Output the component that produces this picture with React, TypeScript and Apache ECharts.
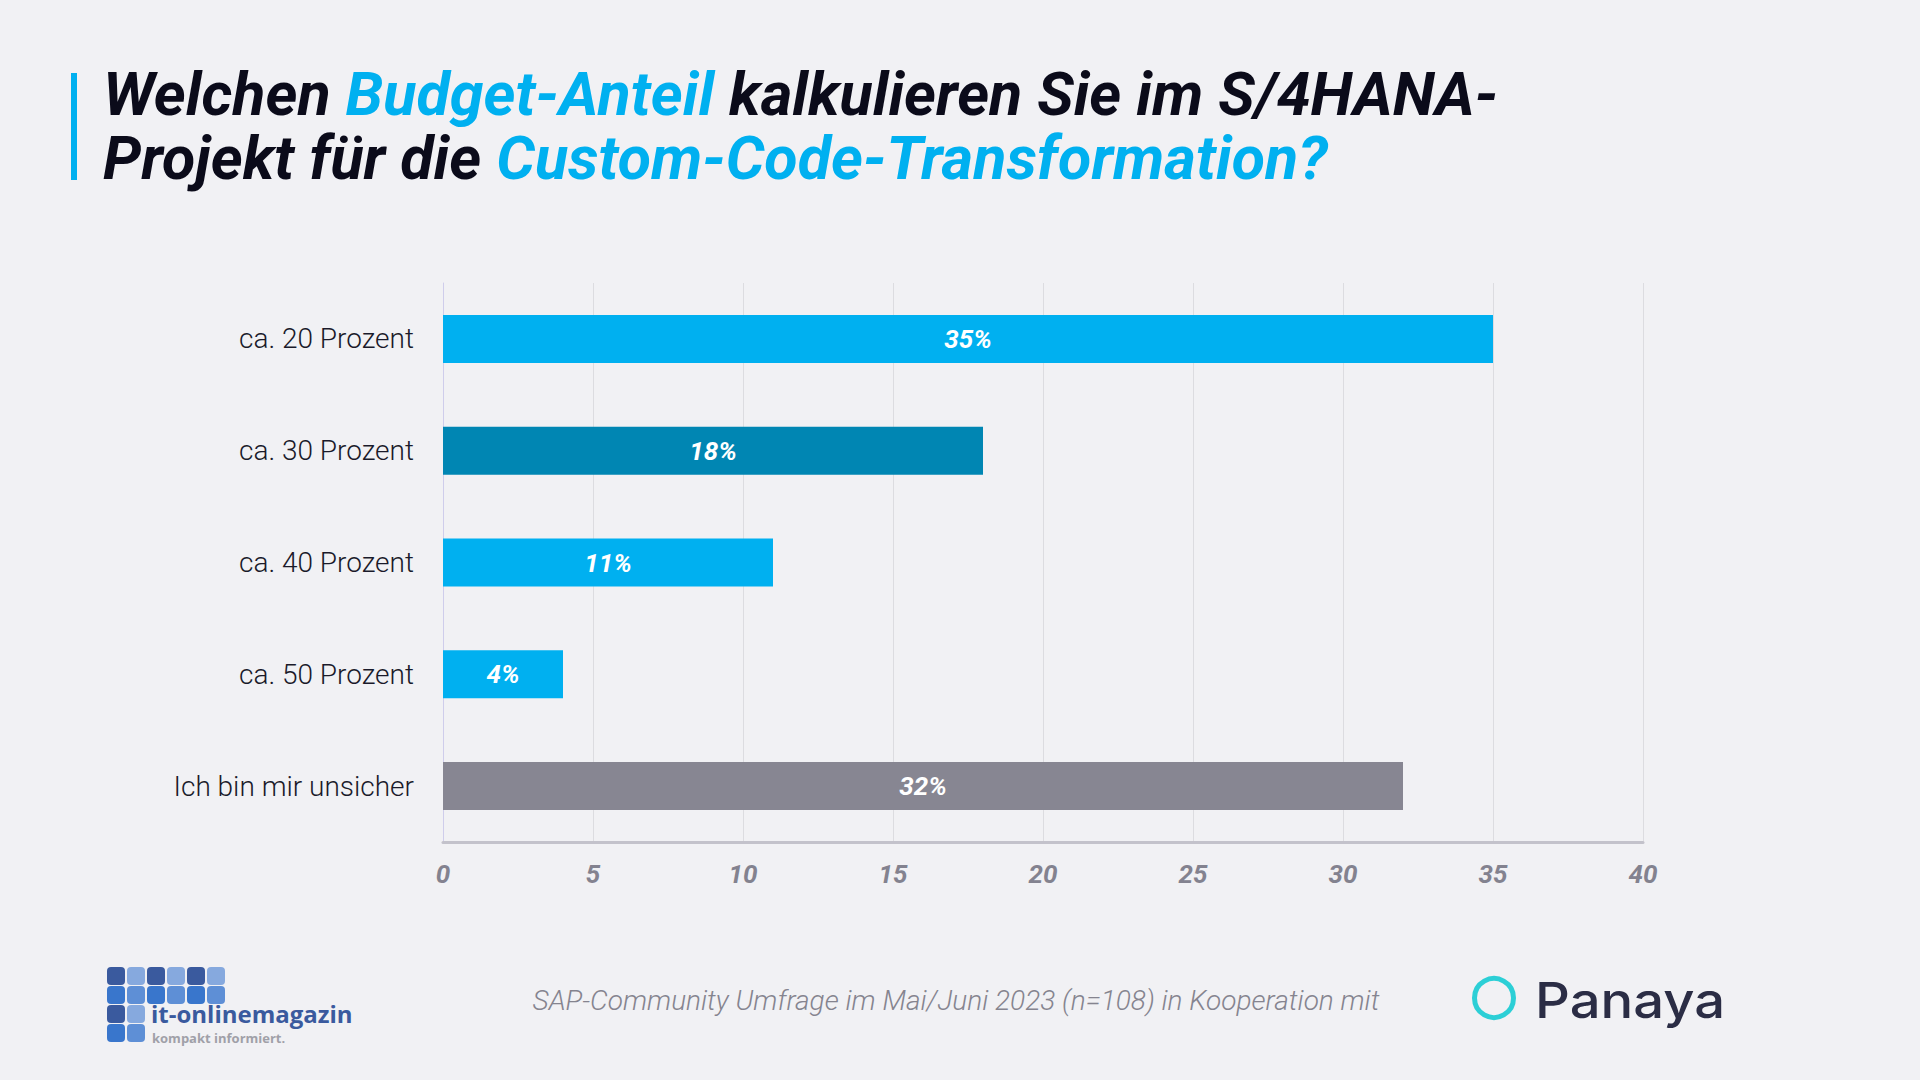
import React, { useEffect, useRef } from "react";
import * as echarts from "echarts";

const categories = ["ca. 20 Prozent", "ca. 30 Prozent", "ca. 40 Prozent", "ca. 50 Prozent", "Ich bin mir unsicher"];
const values = [35, 18, 11, 4, 32];
const barColors = ["#00b0f0", "#0086b3", "#00b0f0", "#00b0f0", "#878692"];
const xTicks = { min: 0, max: 40, interval: 5 };
const titleLine1 = ["Welchen ", "Budget-Anteil", " kalkulieren Sie im S/4HANA-"];
const titleLine2 = ["Projekt für die ", "Custom-Code-Transformation?"];
const footerText = "SAP-Community Umfrage im Mai/Juni 2023 (n=108) in Kooperation mit";

function logoSquares() {
  const dark = "#3a5a9e";
  const light = "#86a9de";
  const mid = "#3976cc";
  const midLight = "#5e8fd6";
  const els: any[] = [];
  const x0 = 107;
  const ys = [967, 986, 1005, 1024];
  const pitch = 20;
  const size = 18;
  for (let r = 0; r < 4; r++) {
    const cols = r < 2 ? 6 : 2;
    for (let c = 0; c < cols; c++) {
      const even = c % 2 === 0;
      const fill = r % 2 === 0 ? (even ? dark : light) : even ? mid : midLight;
      els.push({
        type: "rect",
        shape: { x: x0 + c * pitch, y: ys[r], width: size, height: size, r: 4 },
        style: { fill },
      });
    }
  }
  return els;
}

const titleRich = {
  a: { color: "#0b0b1a", fontFamily: "Roboto", fontStyle: "italic", fontWeight: 700, fontSize: 61, lineHeight: 64 },
  b: { color: "#00b0f0", fontFamily: "Roboto", fontStyle: "italic", fontWeight: 700, fontSize: 61, lineHeight: 64 },
};

export default function App() {
  const ref = useRef<HTMLDivElement>(null);
  useEffect(() => {
    if (!ref.current) return;
    const chart = echarts.init(ref.current, null, { renderer: "svg" });
    chart.setOption({
      animation: false,
      backgroundColor: "#f1f1f4",
      title: [
        {
          left: 103,
          top: 62,
          padding: 0,
          text: `{a|${titleLine1[0]}}{b|${titleLine1[1]}}{a|${titleLine1[2]}}`,
          textStyle: { rich: titleRich },
        },
        {
          left: 103,
          top: 126,
          padding: 0,
          text: `{a|${titleLine2[0]}}{b|${titleLine2[1]}}`,
          textStyle: { rich: titleRich },
        },
      ],
      grid: { left: 443, right: 277, top: 283, height: 559, containLabel: false },
      xAxis: {
        type: "value",
        min: xTicks.min,
        max: xTicks.max,
        interval: xTicks.interval,
        axisLine: { show: true, lineStyle: { color: "#c3c2cb", width: 3 } },
        axisTick: { show: false },
        splitLine: { show: true, lineStyle: { color: "#dcdce0", width: 1 } },
        axisLabel: {
          margin: 19,
          color: "#83828f",
          fontFamily: "Roboto",
          fontStyle: "italic",
          fontWeight: 700,
          fontSize: 26,
        },
      },
      yAxis: {
        type: "category",
        inverse: true,
        data: categories,
        axisLine: { show: true, lineStyle: { color: "#cfcdeb", width: 1 } },
        axisTick: { show: false },
        axisLabel: {
          margin: 29,
          color: "#1a1a2a",
          fontFamily: "Roboto",
          fontWeight: 300,
          fontSize: 28,
        },
      },
      series: [
        {
          type: "bar",
          barWidth: 48,
          data: values.map((v, i) => ({ value: v, itemStyle: { color: barColors[i] } })),
          label: {
            show: true,
            position: "inside",
            formatter: "{c}%",
            color: "#ffffff",
            fontFamily: "Roboto",
            fontStyle: "italic",
            fontWeight: 700,
            fontSize: 26,
          },
        },
      ],
      graphic: [
        { type: "rect", shape: { x: 71, y: 73, width: 6, height: 107 }, style: { fill: "#00b0f0" } },
        {
          type: "text",
          x: 956,
          y: 1000,
          style: {
            text: footerText,
            fill: "#85848f",
            font: "italic 300 28px Roboto",
            textAlign: "center",
            textVerticalAlign: "middle",
          },
        },
        ...logoSquares(),
        {
          type: "text",
          x: 151,
          y: 1025,
          style: {
            text: "it-onlinemagazin",
            fill: "#3a5a9e",
            font: "bold 24px 'Open Sans'",
            textAlign: "left",
            textVerticalAlign: "bottom",
          },
        },
        {
          type: "text",
          x: 152,
          y: 1031,
          style: {
            text: "kompakt informiert.",
            fill: "#a0a0a8",
            font: "bold 13px 'Open Sans'",
            textAlign: "left",
            textVerticalAlign: "top",
          },
        },
        {
          type: "circle",
          shape: { cx: 1494, cy: 998, r: 19.5 },
          style: { fill: "none", stroke: "#2ccfd6", lineWidth: 5 },
        },
        {
          type: "text",
          x: 1535,
          y: 1000,
          scaleX: 1.11,
          style: {
            text: "Panaya",
            fill: "#2b2d45",
            font: "500 49px Inter",
            textAlign: "left",
            textVerticalAlign: "middle",
          },
        },
      ],
    });
    return () => chart.dispose();
  }, []);
  return (
    <div
      ref={ref}
      style={{ position: "fixed", left: 0, top: 0, width: 1920, height: 1080, background: "#f1f1f4" }}
    />
  );
}
